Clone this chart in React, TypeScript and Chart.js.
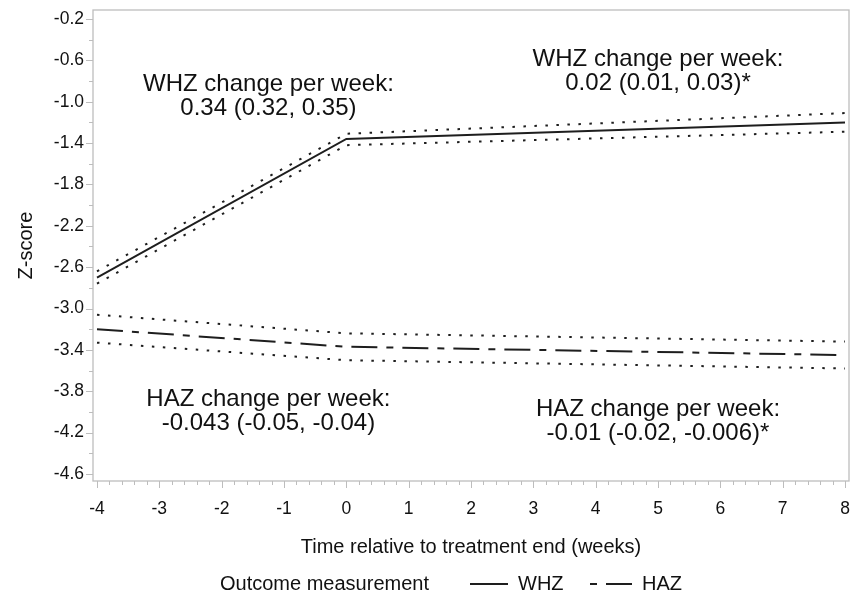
import React, { useEffect, useRef } from "react";
import { Chart, registerables } from "chart.js";

Chart.register(...registerables);

// ---- data ----
const WEEKS = [-4, 0, 8];
const WHZ = [-2.7, -1.36, -1.2];
const WHZ_LOWER = [-2.76, -1.42, -1.29];
const WHZ_UPPER = [-2.64, -1.31, -1.11];
const HAZ = [-3.2, -3.37, -3.45];
const HAZ_LOWER = [-3.33, -3.5, -3.58];
const HAZ_UPPER = [-3.06, -3.24, -3.32];

const X_TICKS = [-4, -3, -2, -1, 0, 1, 2, 3, 4, 5, 6, 7, 8];
const Y_TICKS = [-0.2, -0.6, -1.0, -1.4, -1.8, -2.2, -2.6, -3.0, -3.4, -3.8, -4.2, -4.6];

const X_TITLE = "Time relative to treatment end (weeks)";
const Y_TITLE = "Z-score";
const LEGEND_TITLE = "Outcome measurement";

const ANNOTATIONS = [
  { x: -1.25, y: -0.83, lines: ["WHZ change per week:", "0.34 (0.32, 0.35)"] },
  { x: 5.0, y: -0.59, lines: ["WHZ change per week:", "0.02 (0.01, 0.03)*"] },
  { x: -1.25, y: -3.88, lines: ["HAZ change per week:", "-0.043 (-0.05, -0.04)"] },
  { x: 5.0, y: -3.98, lines: ["HAZ change per week:", "-0.01 (-0.02, -0.006)*"] },
];

// ---- styles ----
const FONT = "'Liberation Sans', Arial, Helvetica, sans-serif";
const INK = "#111111";
const FRAME = "#bdbdbd";
const LINE = "#1e1e1e";
const HAZ_DASH = [26, 9, 7, 9];
const DOT_DASH = [2.5, 8.5];

const toXY = (ys: number[]) => ys.map((y, i) => ({ x: WEEKS[i], y }));

const zeroPadding = (s: any) => {
  s.paddingTop = 0;
  s.paddingBottom = 0;
  s.paddingLeft = 0;
  s.paddingRight = 0;
};

const framePlugin = {
  id: "frameAndTicks",
  afterDraw(chart: any) {
    const { ctx, chartArea: a, scales } = chart;
    const xs = scales.x;
    const ys = scales.y;
    ctx.save();
    ctx.strokeStyle = FRAME;
    ctx.lineWidth = 1.3;
    ctx.strokeRect(a.left, a.top, a.right - a.left, a.bottom - a.top);
    // x ticks: majors at integer weeks, minors every 0.2
    ctx.beginPath();
    for (let i = 0; i <= 60; i++) {
      const v = X_TICKS[0] + i * 0.2;
      const px = Math.round(xs.getPixelForValue(v)) + 0.5;
      const len = i % 5 === 0 ? 7 : 4;
      ctx.moveTo(px, a.bottom);
      ctx.lineTo(px, a.bottom + len);
    }
    // y ticks: majors at labels, minors halfway
    for (let k = 0; k < Y_TICKS.length; k++) {
      const py = Math.round(ys.getPixelForValue(Y_TICKS[k])) + 0.5;
      ctx.moveTo(a.left, py);
      ctx.lineTo(a.left - 7, py);
      if (k < Y_TICKS.length - 1) {
        const mid = (Y_TICKS[k] + Y_TICKS[k + 1]) / 2;
        const pm = Math.round(ys.getPixelForValue(mid)) + 0.5;
        ctx.moveTo(a.left, pm);
        ctx.lineTo(a.left - 4, pm);
      }
    }
    ctx.lineWidth = 1;
    ctx.stroke();

    // annotations
    ctx.fillStyle = INK;
    ctx.font = `24px ${FONT}`;
    ctx.textAlign = "center";
    ctx.textBaseline = "middle";
    for (const an of ANNOTATIONS) {
      const px = xs.getPixelForValue(an.x);
      const py = ys.getPixelForValue(an.y);
      an.lines.forEach((t, j) => ctx.fillText(t, px, py + j * 24));
    }

    // legend
    const ly = 584;
    ctx.font = `20px ${FONT}`;
    ctx.textAlign = "left";
    ctx.fillText(LEGEND_TITLE, 220, ly);
    const ds = chart.data.datasets;
    const items = [
      { ds: ds[0], x0: 470, x1: 508, tx: 518 },
      { ds: ds[3], x0: 590, x1: 632, tx: 642 },
    ];
    for (const it of items) {
      ctx.save();
      ctx.strokeStyle = it.ds.borderColor;
      ctx.lineWidth = it.ds.borderWidth;
      ctx.setLineDash(it.ds.borderDash || []);
      ctx.lineDashOffset = it.ds.borderDash ? 35 : 0;
      ctx.beginPath();
      ctx.moveTo(it.x0, ly);
      ctx.lineTo(it.x1, ly);
      ctx.stroke();
      ctx.restore();
      ctx.fillText(it.ds.label, it.tx, ly);
    }
    ctx.restore();
  },
};

export default function App() {
  const ref = useRef<HTMLCanvasElement | null>(null);

  useEffect(() => {
    document.body.style.margin = "0";
    const canvas = ref.current;
    if (!canvas) return;
    const base = {
      pointRadius: 0,
      pointHoverRadius: 0,
      tension: 0,
      fill: false,
      borderColor: LINE,
    };
    const chart = new Chart(canvas, {
      type: "line",
      data: {
        datasets: [
          { ...base, label: "WHZ", data: toXY(WHZ), borderWidth: 2 },
          { ...base, label: "WHZ lower", data: toXY(WHZ_LOWER), borderWidth: 2, borderDash: DOT_DASH },
          { ...base, label: "WHZ upper", data: toXY(WHZ_UPPER), borderWidth: 2, borderDash: DOT_DASH },
          { ...base, label: "HAZ", data: toXY(HAZ), borderWidth: 2, borderDash: HAZ_DASH },
          { ...base, label: "HAZ lower", data: toXY(HAZ_LOWER), borderWidth: 2, borderDash: DOT_DASH },
          { ...base, label: "HAZ upper", data: toXY(HAZ_UPPER), borderWidth: 2, borderDash: DOT_DASH },
        ] as any,
      },
      options: {
        responsive: false,
        animation: false,
        devicePixelRatio: 1,
        layout: { autoPadding: false, padding: { left: 0, top: 10, right: 10, bottom: 29 } },
        plugins: { legend: { display: false }, tooltip: { enabled: false } },
        scales: {
          x: {
            type: "linear",
            min: -4.064,
            max: 8.064,
            afterBuildTicks: (s: any) => {
              s.ticks = X_TICKS.map((v) => ({ value: v }));
            },
            afterFit: (s: any) => {
              s.height = 88;
              zeroPadding(s);
            },
            grid: { display: false, drawTicks: false, tickLength: 0 },
            border: { display: false },
            ticks: {
              autoSkip: false,
              maxRotation: 0,
              padding: 18,
              color: INK,
              font: { family: FONT, size: 17.5 },
              callback: (v: any) => String(v),
            },
            title: {
              display: true,
              text: X_TITLE,
              color: INK,
              font: { family: FONT, size: 20 },
              padding: { top: 0, bottom: 10 },
            },
          },
          y: {
            type: "linear",
            min: -4.668,
            max: -0.113,
            afterBuildTicks: (s: any) => {
              s.ticks = Y_TICKS.map((v) => ({ value: v }));
            },
            afterFit: (s: any) => {
              s.width = 93;
              zeroPadding(s);
            },
            grid: { display: false, drawTicks: false, tickLength: 0 },
            border: { display: false },
            ticks: {
              autoSkip: false,
              padding: 9,
              color: INK,
              font: { family: FONT, size: 17.5, lineHeight: 1 },
              callback: (v: any) => Number(v).toFixed(1),
            },
            title: {
              display: true,
              text: Y_TITLE,
              color: INK,
              font: { family: FONT, size: 20 },
              padding: { top: 14, bottom: 0 },
            },
          },
        },
      },
      plugins: [framePlugin],
    } as any);
    return () => chart.destroy();
  }, []);

  return (
    <div style={{ width: 859, height: 598, background: "#fff" }}>
      <canvas ref={ref} width={859} height={598} style={{ display: "block" }} />
    </div>
  );
}
